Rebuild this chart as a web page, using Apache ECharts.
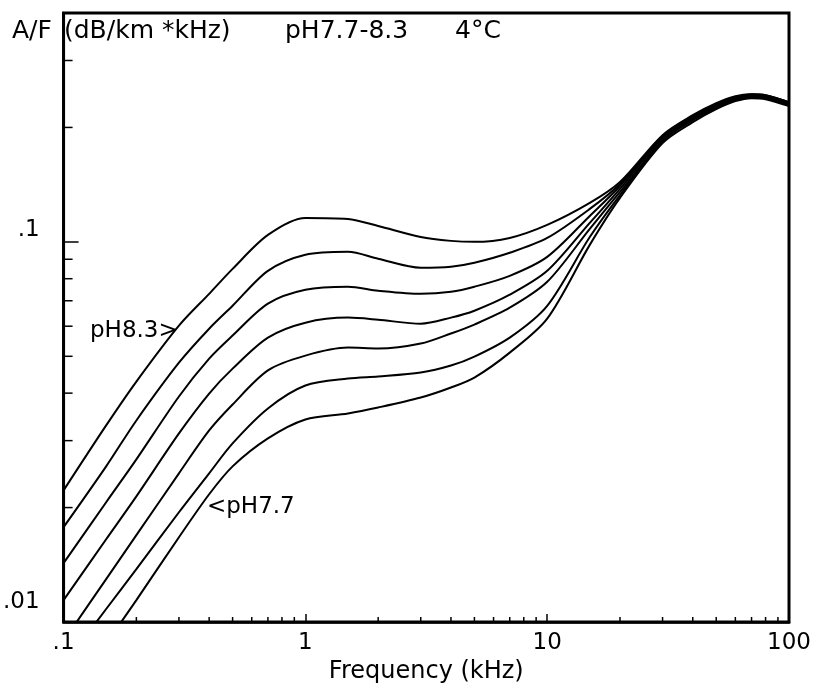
<!DOCTYPE html>
<html>
<head>
<meta charset="utf-8">
<script src="https://cdn.jsdelivr.net/npm/echarts@6/dist/echarts.min.js"></script>
<style>
html,body{margin:0;padding:0;background:#fff;}
#chart{width:832px;height:690px;}
</style>
</head>
<body>
<div id="chart"></div>
<script>
// Frequency grid (kHz)
const freqs = [0.1,0.15,0.2,0.3,0.4,0.5,0.7,1,1.5,2,3,4,5,7,10,15,20,30,40,50,60,70,80,100];

// A/F (dB/km*kHz) for each pH
const pH83 = [0.0222,0.0329,0.0429,0.0602,0.0730,0.0849,0.1043,0.1156,0.1149,0.1101,0.1030,0.1006,0.1000,0.1024,0.1108,0.1266,0.1437,0.1909,0.2154,0.2316,0.2416,0.2446,0.2431,0.2331];
const pH82 = [0.01776,0.02567,0.0339,0.0481,0.0591,0.0679,0.0839,0.0925,0.0942,0.0903,0.0855,0.0860,0.0881,0.0936,0.1024,0.1221,0.1420,0.1897,0.2141,0.2302,0.2402,0.2446,0.2431,0.2331];
const pH81 = [0.01428,0.02065,0.02678,0.0392,0.0493,0.0567,0.0688,0.0748,0.0762,0.0744,0.0730,0.0739,0.0762,0.0814,0.0913,0.1170,0.1403,0.1886,0.2128,0.2288,0.2388,0.2431,0.2416,0.2316];
const pH80 = [0.01142,0.01651,0.02141,0.03134,0.0399,0.0464,0.0560,0.0613,0.0632,0.0624,0.0609,0.0632,0.0659,0.0726,0.0839,0.1122,0.1378,0.1875,0.2116,0.2275,0.2388,0.2416,0.2416,0.2302];
const pH79 = [0.00891,0.01297,0.01692,0.02461,0.03191,0.03734,0.0459,0.0502,0.0527,0.0524,0.0540,0.0574,0.0606,0.0671,0.0785,0.1082,0.1353,0.1852,0.2103,0.2261,0.2373,0.2416,0.2402,0.2302];
const pH78 = [0.00767,0.01082,0.01378,0.01944,0.02461,0.0295,0.03645,0.04188,0.04369,0.04423,0.04531,0.04727,0.0499,0.0560,0.0679,0.1030,0.1328,0.1841,0.2090,0.2247,0.2359,0.2402,0.2388,0.2288];
const pH77 = [0.00591,0.00876,0.01142,0.01671,0.02168,0.02567,0.03041,0.0341,0.03537,0.03667,0.03895,0.04139,0.04395,0.05113,0.0628,0.0982,0.1305,0.1819,0.2065,0.2234,0.2345,0.2388,0.2373,0.2275];

const seriesNames = ['pH8.3','pH8.2','pH8.1','pH8.0','pH7.9','pH7.8','pH7.7'];
const seriesValues = [pH83,pH82,pH81,pH80,pH79,pH78,pH77];

// Axis ticks and labels
const xTicks = [0.1,1,10,100];
const xTickLabels = ['.1','1','10','100'];
const yTicks = [0.01,0.1];
const yTickLabels = ['.01','.1'];
const xMinorTicks = [0.2,0.3,0.4,0.5,0.6,0.7,0.8,0.9,2,3,4,5,6,7,8,9,20,30,40,50,60,70,80,90];
const yMinorTicks = [0.02,0.03,0.04,0.05,0.06,0.07,0.08,0.09,0.2,0.3];
const xMin = 0.1, xMax = 100, yMin = 0.01, yMax = 0.4;

const FONT = "'DejaVu Sans', 'Liberation Sans', sans-serif";

function labelFor(ticks, labels, v) {
  for (let i = 0; i < ticks.length; i++) {
    if (Math.abs(Math.log10(ticks[i]) - Math.log10(v)) < 1e-6) return labels[i];
  }
  return '';
}

const chart = echarts.init(document.getElementById('chart'), null, {renderer: 'canvas'});

const lineSeries = seriesNames.map((name, k) => ({
  name: name,
  type: 'line',
  data: freqs.map((f, i) => [f, seriesValues[k][i]]),
  showSymbol: false,
  smooth: 0.3,
  clip: true,
  lineStyle: {color: '#000', width: 2},
  itemStyle: {color: '#000'},
  silent: true,
  z: 2
}));

const minorX = {
  type: 'custom',
  coordinateSystem: 'cartesian2d',
  silent: true,
  data: xMinorTicks.map(v => [v, yMin]),
  renderItem: function (params, api) {
    const p = api.coord([api.value(0), api.value(1)]);
    return {type: 'line', shape: {x1: p[0], y1: p[1], x2: p[0], y2: p[1] - 5},
            style: {stroke: '#000', lineWidth: 1.5}};
  },
  z: 3
};
const minorY = {
  type: 'custom',
  coordinateSystem: 'cartesian2d',
  silent: true,
  data: yMinorTicks.map(v => [xMin, v]),
  renderItem: function (params, api) {
    const p = api.coord([api.value(0), api.value(1)]);
    return {type: 'line', shape: {x1: p[0], y1: p[1], x2: p[0] + 9, y2: p[1]},
            style: {stroke: '#000', lineWidth: 1.5}};
  },
  z: 3
};

const option = {
  backgroundColor: '#fff',
  animation: false,
  grid: {left: 62, right: 43, top: 13, bottom: 68, show: true, borderColor: '#000', borderWidth: 3, backgroundColor: 'transparent'},
  xAxis: {
    type: 'log', logBase: 10, min: xMin, max: xMax,
    name: 'Frequency (kHz)', nameLocation: 'middle', nameGap: 33,
    nameTextStyle: {fontFamily: FONT, fontSize: 24, color: '#000'},
    axisLine: {show: true, lineStyle: {color: '#000', width: 2.5}},
    axisTick: {show: true, inside: true, length: 8, lineStyle: {color: '#000', width: 1.5}},
    axisLabel: {show: true, margin: 10, fontFamily: FONT, fontSize: 23, color: '#000',
      formatter: v => labelFor(xTicks, xTickLabels, v)},
    splitLine: {show: false}, minorTick: {show: false}, minorSplitLine: {show: false}
  },
  yAxis: {
    type: 'log', logBase: 10, min: yMin, max: yMax,
    axisLine: {show: true, lineStyle: {color: '#000', width: 2.5}},
    axisTick: {show: true, inside: true, length: 15, lineStyle: {color: '#000', width: 1.5}},
    axisLabel: {show: true, margin: 24, fontFamily: FONT, fontSize: 23, color: '#000',
      verticalAlign: 'bottom', showMaxLabel: false,
      formatter: v => {
        const s = labelFor(yTicks, yTickLabels, v);
        if (!s) return '';
        return Math.abs(v - yMin) < 1e-9 ? '{lo|' + s + '}' : s;
      },
      rich: {lo: {fontFamily: FONT, fontSize: 23, color: '#000', padding: [0, 0, 8, 0]}}
    },
    splitLine: {show: false}, minorTick: {show: false}, minorSplitLine: {show: false}
  },
  graphic: [
    {type: 'text', x: 12, y: 31, style: {text: 'A/F', font: '25px ' + FONT, fill: '#000', verticalAlign: 'middle'}},
    {type: 'text', x: 64, y: 31, style: {text: '(dB/km *kHz)', font: '25px ' + FONT, fill: '#000', verticalAlign: 'middle'}},
    {type: 'text', x: 285, y: 31, style: {text: 'pH7.7-8.3', font: '25px ' + FONT, fill: '#000', verticalAlign: 'middle'}},
    {type: 'text', x: 455, y: 31, style: {text: '4°C', font: '25px ' + FONT, fill: '#000', verticalAlign: 'middle'}},
    {type: 'text', x: 90, y: 331, style: {text: 'pH8.3>', font: '23px ' + FONT, fill: '#000', verticalAlign: 'middle'}},
    {type: 'text', x: 207, y: 507, style: {text: '<pH7.7', font: '23px ' + FONT, fill: '#000', verticalAlign: 'middle'}}
  ],
  series: lineSeries.concat([minorX, minorY])
};

chart.setOption(option);
</script>
</body>
</html>
